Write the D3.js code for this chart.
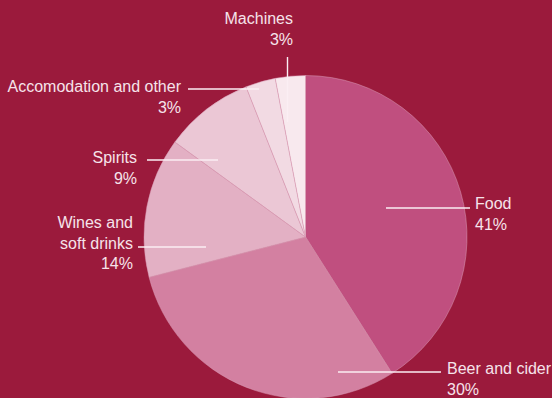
<!DOCTYPE html>
<html>
<head>
<meta charset="utf-8">
<script src="https://cdn.jsdelivr.net/npm/d3@7"></script>
<style>
  html, body { margin: 0; padding: 0; background: #9b1a3c; }
  svg { display: block; }
  text { font-family: "Liberation Sans", Arial, sans-serif; font-size: 16px; fill: #f6e3ea; }
</style>
</head>
<body>
<svg id="chart" width="552" height="398"></svg>
<script>
// spending shares, clockwise from 12 o'clock
var categories = ["Food", "Beer and cider", "Wines and soft drinks", "Spirits", "Accomodation and other", "Machines"];
var values = [41, 30, 14, 9, 3, 3];
var labelLines = [["Food"], ["Beer and cider"], ["Wines and", "soft drinks"], ["Spirits"], ["Accomodation and other"], ["Machines"]];
var colors = ["#c04f7f", "#d380a1", "#e3b0c4", "#ebc7d5", "#f2dae3", "#f8e9ee"];

// label layout: leader line (x1,y1)-(x2,y2), text anchor point and alignment
var layout = [
    {x1: 386, y1: 208, x2: 470, y2: 208, tx: 475, ty: 209, anchor: "start"},
    {x1: 338, y1: 372, x2: 441, y2: 372, tx: 447, ty: 374, anchor: "start"},
    {x1: 138, y1: 247, x2: 206, y2: 247, tx: 133, ty: 228, anchor: "end"},
    {x1: 147, y1: 160, x2: 218, y2: 160, tx: 137, ty: 163, anchor: "end"},
    {x1: 188, y1: 89, x2: 259, y2: 89, tx: 181, ty: 92, anchor: "end"},
    {x1: 287.5, y1: 57, x2: 287.5, y2: 122, tx: 293, ty: 24, anchor: "end"}
];

var cx = 305.5, cy = 237, radius = 161.5;
var lineHeight = 20.5;

var svg = d3.select("#chart");

var pie = d3.pie().sort(null).value(function (d) { return d; });
var arc = d3.arc().innerRadius(0).outerRadius(radius);

var g = svg.append("g").attr("transform", "translate(" + cx + "," + cy + ")");

g.selectAll("path")
    .data(pie(values))
    .enter().append("path")
    .attr("d", arc)
    .attr("fill", function (d, i) { return colors[i]; })
    .attr("stroke", "#d89bb4")
    .attr("stroke-width", 0.5);

// leader lines
svg.selectAll("line.leader")
    .data(layout)
    .enter().append("line")
    .attr("class", "leader")
    .attr("x1", function (d) { return d.x1; })
    .attr("y1", function (d) { return d.y1; })
    .attr("x2", function (d) { return d.x2; })
    .attr("y2", function (d) { return d.y2; })
    .attr("stroke", "#fbeef3")
    .attr("stroke-width", 1.4);

// labels
categories.forEach(function (c, i) {
    var l = layout[i];
    var lines = labelLines[i].concat([values[i] + "%"]);
    var t = svg.append("text")
        .attr("text-anchor", l.anchor)
        .attr("x", l.tx)
        .attr("y", l.ty);
    lines.forEach(function (s, j) {
        t.append("tspan")
            .attr("x", l.tx)
            .attr("y", l.ty + j * lineHeight)
            .text(s);
    });
});
</script>
</body>
</html>
